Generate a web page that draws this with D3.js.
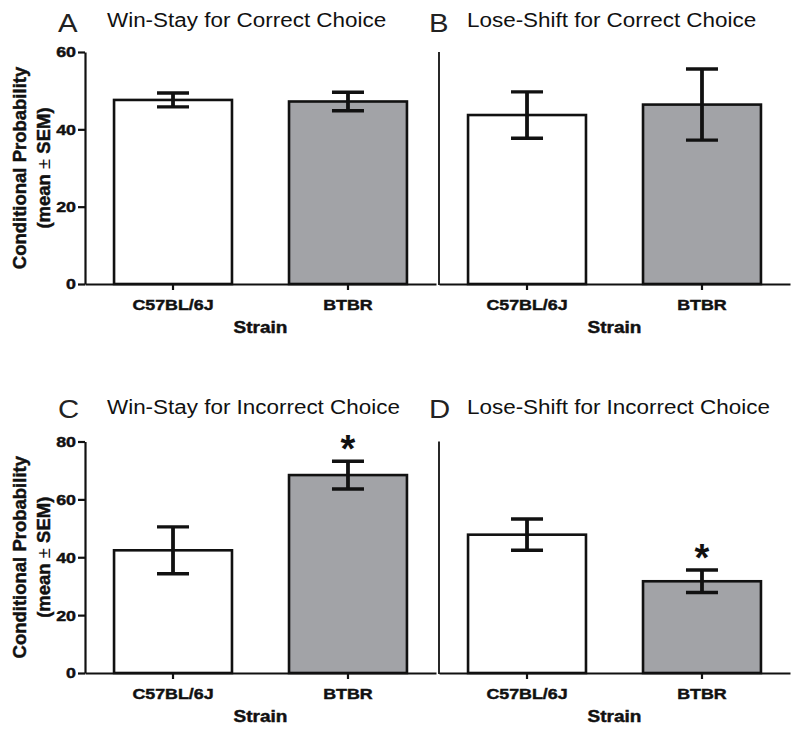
<!DOCTYPE html>
<html><head><meta charset="utf-8">
<script src="https://cdn.jsdelivr.net/npm/d3@7"></script>
<style>
body{margin:0;background:#fff}
text{font-family:"Liberation Sans",Arial,Helvetica,sans-serif}
</style></head>
<body><svg id="chart" width="800" height="734"></svg>
<script>
// ---------- data ----------
const strains = ["C57BL/6J", "BTBR"];
const panelLetters = ["A", "B", "C", "D"];
const panelTitles = ["Win-Stay for Correct Choice", "Lose-Shift for Correct Choice",
                     "Win-Stay for Incorrect Choice", "Lose-Shift for Incorrect Choice"];
const winStayCorrectMean = [47.6, 47.2];
const winStayCorrectSem = [1.8, 2.4];
const loseShiftCorrectMean = [43.7, 46.4];
const loseShiftCorrectSem = [6.0, 9.2];
const winStayIncorrectMean = [42.4, 68.4];
const winStayIncorrectSem = [8.1, 4.8];
const loseShiftIncorrectMean = [47.8, 31.7];
const loseShiftIncorrectSem = [5.4, 3.9];
const winStayCorrectSig = [false, false];
const loseShiftCorrectSig = [false, false];
const winStayIncorrectSig = [false, true];
const loseShiftIncorrectSig = [false, true];
const topTicks = [0, 20, 40, 60];
const bottomTicks = [0, 20, 40, 60, 80];
const xAxisTitle = "Strain";
const yAxisTitle1 = "Conditional Probability";
const yAxisTitle2 = ["(mean ", "\u00B1", " SEM)"];
const barFills = ["#ffffff", "#a2a3a7"];

// ---------- layout ----------
const svg = d3.select("#chart");
const STRETCH = 1.15;
const INK = "#111";
function stretch(sel) {
  sel.each(function () {
    const w = this.getComputedTextLength();
    d3.select(this).attr("textLength", w * STRETCH).attr("lengthAdjust", "spacingAndGlyphs");
  });
}
function heavy(sel) { sel.attr("stroke", INK).attr("stroke-width", 0.45); }

const panels = [
  {mean: winStayCorrectMean, sem: winStayCorrectSem, sig: winStayCorrectSig, ticks: topTicks,
   left: 85, right: 436, top: 52, bottom: 284, showY: true, letterX: 58, titleX: 107, letterY: 32, titleY: 27},
  {mean: loseShiftCorrectMean, sem: loseShiftCorrectSem, sig: loseShiftCorrectSig, ticks: topTicks,
   left: 439, right: 790, top: 52, bottom: 284, showY: false, letterX: 429, titleX: 467, letterY: 32, titleY: 27},
  {mean: winStayIncorrectMean, sem: winStayIncorrectSem, sig: winStayIncorrectSig, ticks: bottomTicks,
   left: 85, right: 436, top: 441.5, bottom: 673, showY: true, letterX: 58, titleX: 107, letterY: 418, titleY: 414},
  {mean: loseShiftIncorrectMean, sem: loseShiftIncorrectSem, sig: loseShiftIncorrectSig, ticks: bottomTicks,
   left: 439, right: 790, top: 441.5, bottom: 673, showY: false, letterX: 429, titleX: 467, letterY: 418, titleY: 414}
];

panels.forEach((p, i) => {
  const g = svg.append("g");
  const x = d3.scaleBand().domain(strains).range([p.left, p.right]).paddingInner(0.326).paddingOuter(0.166);
  const yMax = p.ticks[p.ticks.length - 1];
  const y = d3.scaleLinear().domain([0, yMax]).range([p.bottom, p.top]);

  // titles
  g.append("text").attr("x", p.letterX).attr("y", p.letterY).attr("font-size", 25.5)
    .attr("fill", "#222").text(panelLetters[i]).call(stretch);
  g.append("text").attr("x", p.titleX).attr("y", p.titleY).attr("font-size", 19.5)
    .attr("fill", "#111").text(panelTitles[i]).call(stretch);

  // bars
  g.selectAll("rect.bar").data(strains).join("rect")
    .attr("x", d => x(d)).attr("width", x.bandwidth())
    .attr("y", (d, j) => y(p.mean[j])).attr("height", (d, j) => p.bottom - y(p.mean[j]))
    .attr("fill", (d, j) => barFills[j]).attr("stroke", INK).attr("stroke-width", 2.6);

  // error bars
  const eb = g.selectAll("g.err").data(strains).join("g");
  eb.append("line")
    .attr("x1", d => x(d) + x.bandwidth() / 2).attr("x2", d => x(d) + x.bandwidth() / 2)
    .attr("y1", (d, j) => y(p.mean[j] - p.sem[j])).attr("y2", (d, j) => y(p.mean[j] + p.sem[j]))
    .attr("stroke-width", 3.8);
  [1, -1].forEach(s => {
    eb.append("line")
      .attr("x1", d => x(d) + x.bandwidth() / 2 - 16).attr("x2", d => x(d) + x.bandwidth() / 2 + 16)
      .attr("y1", (d, j) => y(p.mean[j] + s * p.sem[j])).attr("y2", (d, j) => y(p.mean[j] + s * p.sem[j]))
      .attr("stroke-width", 3.4);
  });
  eb.selectAll("line").attr("stroke", INK);

  // significance
  g.selectAll("text.sig").data(strains.filter((d, j) => p.sig[j])).join("text")
    .attr("x", d => x(d) + x.bandwidth() / 2)
    .attr("y", d => { const j = strains.indexOf(d); return y(p.mean[j] + p.sem[j]) + 1; })
    .attr("text-anchor", "middle").attr("font-size", 38).attr("font-weight", "bold").attr("fill", INK)
    .text("*");

  // x axis
  const xa = g.append("g").attr("transform", `translate(0,${p.bottom})`)
    .call(d3.axisBottom(x).tickSize(6).tickSizeOuter(0).tickPadding(8.5));
  xa.select(".domain").attr("stroke", INK).attr("stroke-width", 2.2);
  xa.selectAll(".tick line").attr("stroke", INK).attr("stroke-width", 2.2);
  xa.selectAll(".tick text").attr("font-size", 15.5).attr("font-weight", "bold")
    .attr("font-family", "Liberation Sans, Arial, sans-serif").attr("fill", INK).call(stretch).call(heavy);
  g.append("text").attr("x", (p.left + p.right) / 2).attr("y", p.bottom + 49)
    .attr("text-anchor", "middle").attr("font-size", 16.5).attr("font-weight", "bold").attr("fill", INK)
    .text(xAxisTitle).call(stretch).call(heavy);

  // y axis
  if (p.showY) {
    const ya = g.append("g").attr("transform", `translate(${p.left},0)`)
      .call(d3.axisLeft(y).tickValues(p.ticks).tickSize(7).tickSizeOuter(0).tickPadding(2));
    ya.select(".domain").attr("stroke", INK).attr("stroke-width", 2.2);
    ya.selectAll(".tick line").attr("stroke", INK).attr("stroke-width", 2.2);
    ya.selectAll(".tick text").attr("font-size", 15.5).attr("font-weight", "bold")
      .attr("font-family", "Liberation Sans, Arial, sans-serif").attr("fill", INK).call(stretch).call(heavy);
    const cy = (p.top + p.bottom) / 2;
    g.append("text").attr("transform", `translate(26,${cy}) rotate(-90)`)
      .attr("text-anchor", "middle").attr("font-size", 18.5).attr("font-weight", "bold").attr("fill", INK)
      .text(yAxisTitle1).call(heavy);
    const t2 = g.append("text").attr("transform", `translate(50,${cy}) rotate(-90)`)
      .attr("text-anchor", "middle").attr("font-size", 18.5).attr("font-weight", "bold").attr("fill", INK);
    t2.selectAll("tspan").data(yAxisTitle2).join("tspan")
      .attr("font-weight", (d, k) => k === 1 ? "normal" : "bold")
      .attr("stroke", (d, k) => k === 1 ? "none" : INK).attr("stroke-width", 0.45)
      .text(d => d);
  } else {
    g.append("line").attr("x1", p.left).attr("x2", p.left)
      .attr("y1", y(yMax)).attr("y2", y(0) + 1)
      .attr("stroke", INK).attr("stroke-width", 1.8);
  }
});
</script>
</body></html>
